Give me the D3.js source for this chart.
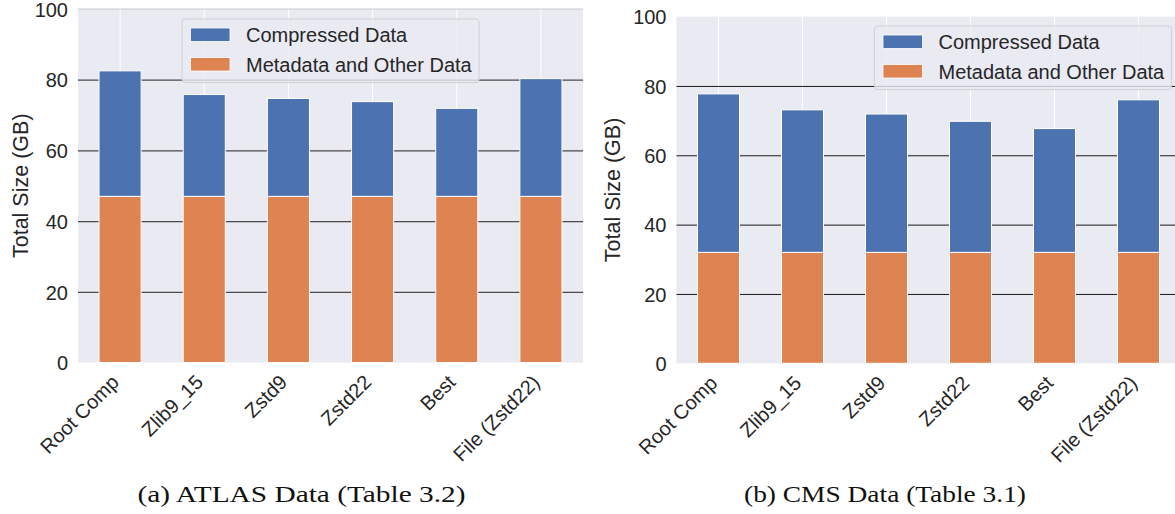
<!DOCTYPE html>
<html>
<head>
<meta charset="utf-8">
<script src="https://cdn.jsdelivr.net/npm/d3@7"></script>
<style>
  html, body { margin: 0; padding: 0; background: #ffffff; }
  svg { display: block; font-family: "Liberation Sans", Arial, sans-serif; }
  .caption { font-family: "Liberation Serif", "Times New Roman", serif; }
</style>
</head>
<body>
<svg id="chart" width="1175" height="514"></svg>
<script>
// ---------------- data ----------------
const categories = ["Root Comp", "Zlib9_15", "Zstd9", "Zstd22", "Best", "File (Zstd22)"];
const seriesNames = ["Compressed Data", "Metadata and Other Data"];
const yTicks = [0, 20, 40, 60, 80, 100];

const atlasMetadata   = [47, 47, 47, 47, 47, 47];
const atlasCompressed = [35.5, 28.8, 27.7, 26.8, 24.9, 33.3];

const cmsMetadata   = [32, 32, 32, 32, 32, 32];
const cmsCompressed = [45.7, 41.1, 39.9, 37.8, 35.7, 44.0];

const captions = ["(a) ATLAS Data (Table 3.2)", "(b) CMS Data (Table 3.1)"];
const yLabel = "Total Size (GB)";

// ---------------- style ----------------
const colors = { compressed: "#4C72B0", meta: "#DD8452" };
const bg = "#EAEAF2";
const textColor = "#262626";

const svg = d3.select("#chart");

function panel(cfg) {
  const { left, right, top, bottom, meta, comp, legendPos, topLine, gridColor, gridWidth, ylabX, caption, capX, capLen } = cfg;
  const g = svg.append("g");

  const x = d3.scaleBand().domain(categories).range([left, right]).paddingInner(0.5).paddingOuter(0.25);
  const y = d3.scaleLinear().domain([0, 100]).range([bottom, top]);

  // background
  g.append("rect").attr("x", left).attr("y", top).attr("width", right - left).attr("height", bottom - top).attr("fill", bg);

  // vertical white grid lines
  const vg = g.append("g").attr("transform", `translate(0,${top})`)
    .call(d3.axisTop(x).tickSize(-(bottom - top)).tickFormat(""));
  vg.select(".domain").remove();
  vg.selectAll("line").attr("stroke", "#ffffff").attr("stroke-width", 1);

  // horizontal grid lines
  const hg = g.append("g").attr("transform", `translate(${left},0)`)
    .call(d3.axisLeft(y).tickValues(yTicks.filter(v => v > 0 && v < 100)).tickSize(-(right - left)).tickFormat(""));
  hg.select(".domain").remove();
  hg.selectAll("line").attr("stroke", gridColor).attr("stroke-width", gridWidth);

  if (topLine) {
    g.append("line").attr("x1", left).attr("x2", right).attr("y1", y(100)).attr("y2", y(100))
      .attr("stroke", "#c9c9cf").attr("stroke-width", 1);
  }

  // stacked bars
  const rows = categories.map((c, i) => ({ cat: c, meta: meta[i], comp: comp[i] }));
  const stack = d3.stack().keys(["meta", "comp"])(rows);
  const fills = { meta: colors.meta, comp: colors.compressed };
  stack.forEach(layer => {
    g.append("g").selectAll("rect").data(layer).join("rect")
      .attr("x", d => x(d.data.cat))
      .attr("width", x.bandwidth())
      .attr("y", d => y(d[1]))
      .attr("height", d => y(d[0]) - y(d[1]))
      .attr("fill", fills[layer.key])
      .attr("stroke", "#ffffff")
      .attr("stroke-width", 1);
  });

  // y axis labels
  const ya = g.append("g").attr("transform", `translate(${left},0)`)
    .call(d3.axisLeft(y).tickValues(yTicks).tickSize(0).tickPadding(10));
  ya.select(".domain").remove();
  ya.attr("font-family", null).attr("font-size", null);
  ya.selectAll("text").style("font-size", "20px").attr("fill", textColor).attr("dy", "0.36em");

  // x axis labels
  const xa = g.append("g").attr("transform", `translate(0,${bottom})`)
    .call(d3.axisBottom(x).tickSize(0));
  xa.select(".domain").remove();
  xa.attr("font-family", null).attr("font-size", null);
  xa.selectAll("text")
    .style("font-size", "20px").attr("fill", textColor)
    .attr("text-anchor", "end")
    .attr("x", 0).attr("y", 0).attr("dy", 0)
    .attr("transform", "translate(0,21) rotate(-45)");

  // y axis title
  g.append("text")
    .attr("transform", `translate(${ylabX},${(top + bottom) / 2}) rotate(-90)`)
    .attr("text-anchor", "middle").attr("dominant-baseline", "central")
    .style("font-size", "21.5px").attr("fill", textColor)
    .text(yLabel);

  // legend
  const lg = g.append("g").attr("transform", `translate(${legendPos[0]},${legendPos[1]})`);
  lg.append("rect").attr("width", 297).attr("height", 63.5).attr("rx", 3)
    .attr("fill", bg).attr("fill-opacity", 0.8).attr("stroke", "#cfcfd4").attr("stroke-width", 1);
  const items = [{ name: seriesNames[0], c: colors.compressed }, { name: seriesNames[1], c: colors.meta }];
  items.forEach((it, i) => {
    lg.append("rect").attr("x", 8.5).attr("y", 9 + i * 29.5).attr("width", 39.5).attr("height", 13.5)
      .attr("fill", it.c).attr("stroke", "#ffffff").attr("stroke-width", 0.8);
    lg.append("text").attr("x", 64).attr("y", 23 + i * 29.5)
      .style("font-size", "20px").attr("fill", textColor).text(it.name);
  });

  // caption
  svg.append("text").attr("class", "caption")
    .attr("x", capX).attr("y", 501.5).attr("text-anchor", "middle")
    .style("font-size", "24px").attr("fill", "#111")
    .attr("textLength", capLen).attr("lengthAdjust", "spacingAndGlyphs")
    .text(caption);
}

panel({
  left: 78, right: 583, top: 9, bottom: 362.5,
  meta: atlasMetadata, comp: atlasCompressed,
  legendPos: [182, 19], topLine: true, gridColor: "#4a4a4a", gridWidth: 1.3,
  ylabX: 21, caption: captions[0], capX: 301.5, capLen: 328
});

panel({
  left: 676.5, right: 1180.5, top: 16.6, bottom: 363.3,
  meta: cmsMetadata, comp: cmsCompressed,
  legendPos: [874.5, 26], topLine: false, gridColor: "#1a1a1a", gridWidth: 1,
  ylabX: 613, caption: captions[1], capX: 885, capLen: 282
});
</script>
</body>
</html>
